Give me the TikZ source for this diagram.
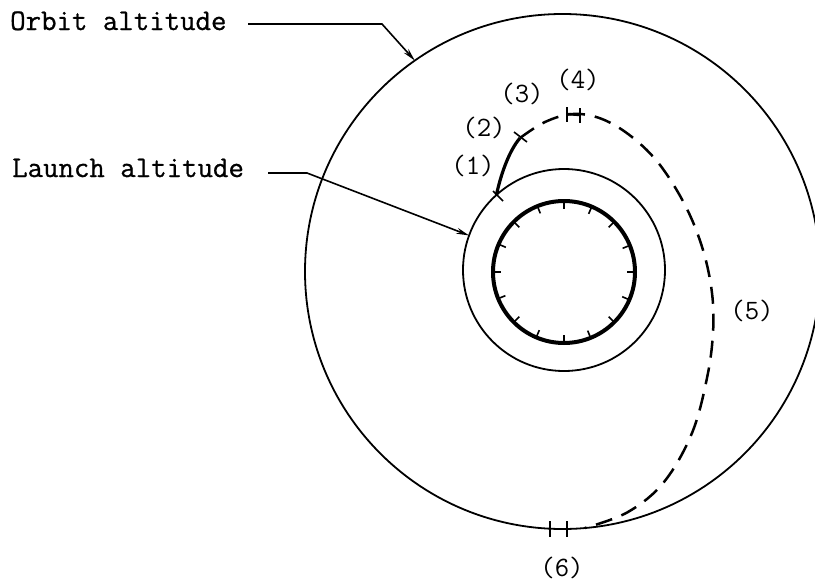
\documentclass[tikz,border=0pt]{standalone}
\usepackage{fontspec}
\newfontfamily\tw[FakeBold=0.8]{Latin Modern Mono}
\usetikzlibrary{arrows.meta,calc}
\begin{document}
\begin{tikzpicture}[x=1pt,y=-1pt,
  lbl/.style={font=\fontsize{30}{32}\selectfont\tw, inner sep=0pt},
  num/.style={font=\fontsize{28}{30}\selectfont\ttfamily, inner sep=0pt},
  ring/.style={circle, draw, inner sep=0pt, outer sep=0pt, line width=1.8pt},
  leader/.style={line width=1.6pt, -{Stealth[length=13pt,width=6pt]}},
  tickmark/.style={line width=1.6pt},
  traj/.style={line width=2.5pt, dash pattern=on 17pt off 10pt}]
\useasboundingbox (0,0) rectangle (815,584);
% circles
\node[ring, minimum size=515pt] (orbit) at (562.5,271.5) {};
\node[ring, minimum size=202pt] (launch) at (564,270) {};
\node[circle, draw, line width=4pt, inner sep=0pt, outer sep=0pt, minimum size=142pt] (earth) at (564,272) {};
\foreach \a in {0,22.5,...,337.5}
  \draw[tickmark] (earth.\a) -- ($(earth.center)!0.89!(earth.\a)$);
% labels with leaders
\node[lbl, anchor=base west] (orbtxt) at (10,30) {Orbit altitude};
\node[lbl, anchor=base west] (lautxt) at (12,177) {Launch altitude};
\coordinate (os) at (248,24);
\coordinate (oc) at (382,24);
\draw[leader] (os) -- (oc) -- (orbit.125.7);
\coordinate (ls) at (268,173);
\coordinate (lc) at (307,173);
\draw[leader] (ls) -- (lc) -- (launch.160.5);
% trajectory
\coordinate (p1) at (launch.132);
\coordinate (p2) at (520,138);
\coordinate (p6) at (orbit.-85);
\draw[line width=3.2pt] (p1) .. controls (500,178) and (508,152) .. (p2);
\draw[traj] plot[smooth, tension=0.6] coordinates {(p2) (545,122) (573,114) (602,119) (632,137) (660,165) (686,207) (703,250) (712,293) (713,333) (707,378) (692,433) (664,482) (628,512) (p6)};
% marks
\draw[tickmark] (493,191) -- (503,201);
\draw[tickmark] (514,132) -- (527,142);
\draw[line width=2.5pt] (567,114) -- (580,115);
\draw[tickmark] (567,107) -- (567,122);
\draw[tickmark] (580,108) -- (580,123);
\draw[tickmark] (550,521) -- (550,537);
\draw[tickmark] (567,521) -- (567,537);
% numbers
\node[num] (l1) at (473,166) {(1)};
\node[num] (l2) at (484,128) {(2)};
\node[num] (l3) at (522,94) {(3)};
\node[num] (l4) at (578,80) {(4)};
\node[num] (l5) at (752,311) {(5)};
\node[num] (l6) at (562,568) {(6)};
\end{tikzpicture}
\end{document}
